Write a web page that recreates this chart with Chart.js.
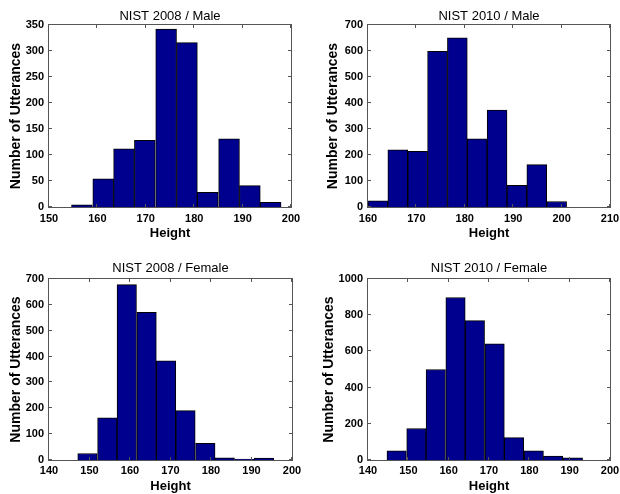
<!DOCTYPE html>
<html>
<head>
<meta charset="utf-8">
<title>NIST height histograms</title>
<script src="https://cdn.jsdelivr.net/npm/chart.js@4.4.1/dist/chart.umd.min.js"></script>
<style>
  body { margin: 0; background: #fff; }
  #wrap { position: relative; width: 620px; height: 494px; }
  #wrap canvas { position: absolute; }
</style>
</head>
<body>
<div id="wrap">
  <canvas id="male2008" width="310" height="247" style="left:0;top:0"></canvas>
  <canvas id="male2010" width="310" height="247" style="left:310px;top:0"></canvas>
  <canvas id="female2008" width="310" height="247" style="left:0;top:247px"></canvas>
  <canvas id="female2010" width="310" height="247" style="left:310px;top:247px"></canvas>
</div>
<script>
// bin centres (cm) and counts
var male2008Bins = [156.8, 161.2, 165.5, 169.8, 174.2, 178.5, 182.8, 187.2, 191.5, 195.8];
var male2008Counts = [4, 54, 112, 128, 342, 316, 28, 131, 41, 9];

var male2010Bins = [162.05, 166.15, 170.26, 174.36, 178.46, 182.56, 186.67, 190.77, 194.87, 198.98];
var male2010Counts = [24, 220, 214, 599, 651, 262, 373, 83, 163, 21];

var female2008Bins = [149.5, 154.4, 159.2, 164.1, 168.9, 173.7, 178.6, 183.4, 188.3, 193.1];
var female2008Counts = [25, 163, 678, 571, 384, 191, 64, 8, 4, 7];

var female2010Bins = [147.1, 152.0, 156.8, 161.7, 166.5, 171.4, 176.2, 181.1, 185.9, 190.8];
var female2010Counts = [50, 174, 500, 898, 770, 642, 124, 50, 21, 12];

var xTitle = 'Height';
var yTitle = 'Number of Utterances';
var fontFamily = '"Liberation Sans", Arial, Helvetica, sans-serif';

// draws the MATLAB style box with inward ticks
var boxPlugin = {
  id: 'boxTicks',
  afterDatasetsDraw: function(chart) {
    var a = chart.chartArea;
    var ctx = chart.ctx;
    var xs = chart.scales.x;
    var ys = chart.scales.y;
    ctx.save();
    ctx.strokeStyle = '#555';
    ctx.lineWidth = 1;
    ctx.beginPath();
    xs.ticks.forEach(function(t) {
      var px = Math.round(xs.getPixelForValue(t.value)) - 0.5;
      ctx.moveTo(px, a.bottom); ctx.lineTo(px, a.bottom - 3);
      ctx.moveTo(px, a.top); ctx.lineTo(px, a.top + 3);
    });
    ys.ticks.forEach(function(t) {
      var py = Math.round(ys.getPixelForValue(t.value)) - 0.5;
      ctx.moveTo(a.left, py); ctx.lineTo(a.left + 3, py);
      ctx.moveTo(a.right, py); ctx.lineTo(a.right - 3, py);
    });
    ctx.stroke();
    ctx.strokeRect(a.left - 0.5, a.top - 0.5, a.right - a.left + 1, a.bottom - a.top + 1);
    ctx.restore();
  }
};

function toPoints(bins, counts) {
  var pts = [];
  bins.forEach(function(b, i) {
    pts.push({x: b, y: counts[i]});
  });
  return pts;
}

function createChart(targetid, title, bins, counts, opt) {
  var ctx = document.getElementById(targetid);
  return new Chart(ctx, {
    type: 'bar',
    data: {
      datasets: [{
        data: toPoints(bins, counts),
        backgroundColor: '#00008f',
        borderColor: '#000',
        borderWidth: 1,
        barPercentage: 1,
        categoryPercentage: 1
      }]
    },
    options: {
      responsive: false,
      animation: false,
      layout: {
        padding: {left: 0, top: opt.padTop, right: opt.padRight, bottom: opt.padBottom}
      },
      plugins: {
        legend: {display: false},
        tooltip: {enabled: false},
        title: {
          display: true,
          text: title,
          fullSize: false,
          color: '#000',
          font: {family: fontFamily, size: 13, weight: 'normal', lineHeight: 1.2},
          padding: {top: 0, bottom: opt.titleGap}
        }
      },
      scales: {
        x: {
          type: 'linear',
          offset: false,
          min: opt.xMin,
          max: opt.xMax,
          grid: {display: false, drawTicks: false, offset: false},
          border: {display: false},
          ticks: {
            stepSize: 10,
            maxRotation: 0,
            autoSkip: false,
            padding: opt.tickPad,
            color: '#000',
            font: {family: fontFamily, size: 11, weight: 'bold'}
          },
          title: {
            display: true,
            text: xTitle,
            color: '#000',
            font: {family: fontFamily, size: 13, weight: 'bold', lineHeight: 1.2},
            padding: {top: 0, bottom: 0}
          },
          afterFit: function(scale) {
            scale.height = 34;
            scale.paddingLeft = 0;
            scale.paddingRight = 0;
          }
        },
        y: {
          min: 0,
          max: opt.yMax,
          grid: {display: false, drawTicks: false},
          border: {display: false},
          ticks: {
            stepSize: opt.yStep,
            padding: 5,
            color: '#000',
            font: {family: fontFamily, size: 11, weight: 'bold'},
            callback: function(v) { return String(v); }
          },
          title: {
            display: true,
            text: yTitle,
            color: '#000',
            font: {family: fontFamily, size: 14, weight: 'bold', lineHeight: 1.2},
            padding: {top: opt.yTitlePad, bottom: 0}
          },
          afterFit: function(scale) {
            scale.width = opt.yWidth;
            scale.paddingTop = 0;
            scale.paddingBottom = 0;
          }
        }
      }
    },
    plugins: [boxPlugin]
  });
}

createChart('male2008', 'NIST 2008 / Male', male2008Bins, male2008Counts,
  {xMin: 150, xMax: 200, yMax: 350, yStep: 50, padTop: 9, titleGap: 0.4, tickPad: 5, padRight: 19, padBottom: 6, yWidth: 49, yTitlePad: 7.5});
createChart('male2010', 'NIST 2010 / Male', male2010Bins, male2010Counts,
  {xMin: 160, xMax: 210, yMax: 700, yStep: 100, padTop: 9, titleGap: 0.4, tickPad: 5, padRight: 10, padBottom: 6, yWidth: 58, yTitlePad: 15});
createChart('female2008', 'NIST 2008 / Female', female2008Bins, female2008Counts,
  {xMin: 140, xMax: 200, yMax: 700, yStep: 100, padTop: 13.5, titleGap: 2.9, tickPad: 4, padRight: 18, padBottom: 0, yWidth: 49, yTitlePad: 8});
createChart('female2010', 'NIST 2010 / Female', female2010Bins, female2010Counts,
  {xMin: 140, xMax: 200, yMax: 1000, yStep: 200, padTop: 13.5, titleGap: 2.9, tickPad: 4, padRight: 10, padBottom: 0, yWidth: 58, yTitlePad: 10.5});
</script>
</body>
</html>
